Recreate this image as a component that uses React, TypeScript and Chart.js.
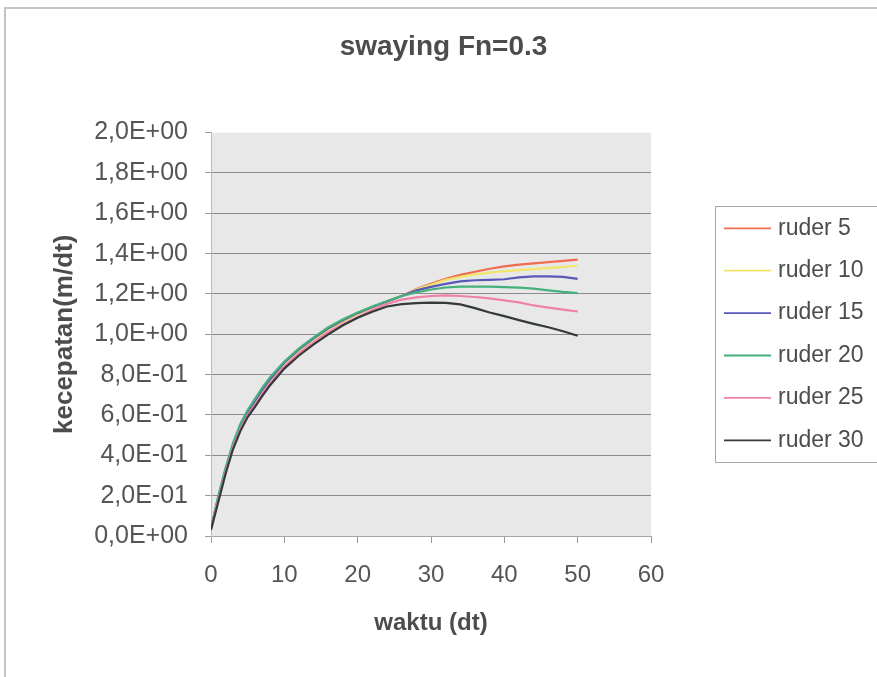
import React, { useEffect, useRef } from 'react';
import { Chart, registerables } from 'chart.js';

Chart.register(...registerables);

const TITLE = 'swaying Fn=0.3';
const X_TITLE = 'waktu (dt)';
const Y_TITLE = 'kecepatan(m/dt)';

// time samples (s)
const WAKTU = [0, 1, 2, 3, 4, 5, 6, 7, 8, 10, 12, 14, 16, 18, 20, 22, 24, 26, 28, 30, 32, 34, 36, 38, 40, 42, 44, 46, 48, 50];

// sway velocity (m/s) per rudder angle
const RUDER_5 = [0.04, 0.19, 0.33, 0.45, 0.54, 0.61, 0.66, 0.72, 0.77, 0.855, 0.92, 0.975, 1.025, 1.065, 1.1, 1.133, 1.162, 1.19, 1.225, 1.25, 1.275, 1.295, 1.31, 1.325, 1.337, 1.345, 1.352, 1.358, 1.364, 1.37];
const RUDER_10 = [0.04, 0.19, 0.33, 0.45, 0.54, 0.61, 0.665, 0.72, 0.77, 0.855, 0.92, 0.975, 1.025, 1.065, 1.1, 1.133, 1.162, 1.19, 1.222, 1.245, 1.27, 1.285, 1.297, 1.306, 1.313, 1.318, 1.323, 1.328, 1.334, 1.34];
const RUDER_15 = [0.04, 0.19, 0.33, 0.45, 0.545, 0.615, 0.67, 0.725, 0.775, 0.86, 0.925, 0.98, 1.03, 1.07, 1.105, 1.135, 1.163, 1.19, 1.218, 1.235, 1.25, 1.262, 1.268, 1.27, 1.273, 1.282, 1.287, 1.287, 1.285, 1.275];
const RUDER_20 = [0.04, 0.2, 0.34, 0.46, 0.555, 0.625, 0.68, 0.735, 0.785, 0.865, 0.93, 0.985, 1.035, 1.075, 1.108, 1.138, 1.165, 1.19, 1.208, 1.222, 1.232, 1.236, 1.237, 1.236, 1.234, 1.231, 1.226, 1.218, 1.21, 1.204];
const RUDER_25 = [0.04, 0.18, 0.32, 0.44, 0.53, 0.6, 0.65, 0.705, 0.755, 0.84, 0.905, 0.96, 1.01, 1.05, 1.085, 1.12, 1.15, 1.172, 1.183, 1.19, 1.193, 1.19, 1.185, 1.178, 1.168, 1.158, 1.143, 1.132, 1.122, 1.113];
const RUDER_30 = [0.03, 0.17, 0.31, 0.43, 0.52, 0.59, 0.64, 0.695, 0.745, 0.83, 0.895, 0.95, 1.0, 1.045, 1.082, 1.112, 1.138, 1.15, 1.155, 1.157, 1.156, 1.148, 1.13, 1.108, 1.09, 1.07, 1.052, 1.035, 1.015, 0.993];

const SERIES_LABELS = ['ruder 5', 'ruder 10', 'ruder 15', 'ruder 20', 'ruder 25', 'ruder 30'];
const SERIES_COLORS = ['#f26b50', '#f2e66a', '#5858b8', '#44b07c', '#f080aa', '#343a3a'];

const Y_TICK_LABELS = ['0,0E+00', '2,0E-01', '4,0E-01', '6,0E-01', '8,0E-01', '1,0E+00', '1,2E+00', '1,4E+00', '1,6E+00', '1,8E+00', '2,0E+00'];

const FONT = "'Liberation Sans', Arial, Helvetica, sans-serif";
const TEXT = '#4c4c4c';

// white sheet with a thin frame and a grey plot area
const framePlugin = {
  id: 'frame',
  beforeDraw(chart: any) {
    const { ctx, chartArea: a, width, height } = chart;
    ctx.save();
    ctx.fillStyle = '#ffffff';
    ctx.fillRect(0, 0, width, height);
    ctx.strokeStyle = '#c4c4c4';
    ctx.lineWidth = 2;
    ctx.strokeRect(5, 8, width + 20, height + 20);
    ctx.fillStyle = '#e8e8e8';
    ctx.fillRect(a.left, a.top, a.right - a.left, a.bottom - a.top);
    ctx.restore();
  },
};

// boxed legend to the right of the plot
const sideLegendPlugin = {
  id: 'sideLegend',
  afterDraw(chart: any) {
    const { ctx, chartArea: a } = chart;
    const sets = chart.data.datasets;
    const step = 42.4;
    const midY = (a.top + a.bottom) / 2;
    const left = a.right + 64;
    const boxTop = midY - 128;
    ctx.save();
    ctx.fillStyle = '#ffffff';
    ctx.fillRect(left, boxTop, 220, 256);
    ctx.strokeStyle = '#a8a8a8';
    ctx.lineWidth = 1;
    ctx.strokeRect(Math.round(left) + 0.5, Math.round(boxTop) + 0.5, 220, 256);
    ctx.font = `23px ${FONT}`;
    ctx.textBaseline = 'middle';
    ctx.textAlign = 'left';
    sets.forEach((ds: any, i: number) => {
      const y = midY + (i - (sets.length - 1) / 2) * step;
      ctx.strokeStyle = ds.borderColor;
      ctx.lineWidth = 1.8;
      ctx.beginPath();
      ctx.moveTo(left + 9, y);
      ctx.lineTo(left + 56, y);
      ctx.stroke();
      ctx.fillStyle = TEXT;
      ctx.fillText(ds.label, left + 63, y);
    });
    ctx.restore();
  },
};

export default function App() {
  const ref = useRef<HTMLCanvasElement>(null);

  useEffect(() => {
    const canvas = ref.current;
    if (!canvas) return;
    const series = [RUDER_5, RUDER_10, RUDER_15, RUDER_20, RUDER_25, RUDER_30];
    const chart = new Chart(canvas, {
      type: 'line',
      data: {
        datasets: series.map((vals, i) => ({
          label: SERIES_LABELS[i],
          data: vals.map((v, j) => ({ x: WAKTU[j], y: v })),
          borderColor: SERIES_COLORS[i],
          backgroundColor: SERIES_COLORS[i],
          borderWidth: 2.2,
          pointRadius: 0,
          tension: 0,
          fill: false,
          yAxisID: 'y',
          xAxisID: 'x',
          order: series.length - 1 - i,
        })),
      },
      options: {
        animation: false,
        responsive: true,
        maintainAspectRatio: false,
        layout: { padding: { left: 10, right: 0, top: 0, bottom: 0 } },
        plugins: {
          legend: { display: false },
          tooltip: { enabled: false },
          title: {
            display: true,
            text: TITLE,
            color: TEXT,
            font: { family: FONT, size: 28, weight: 'bold' },
            padding: { top: 30, bottom: 69 },
          },
        },
        scales: {
          x: {
            type: 'linear',
            min: 0,
            max: 60,
            ticks: {
              stepSize: 10,
              color: '#555555',
              font: { family: FONT, size: 24 },
              padding: 18,
              maxRotation: 0,
            },
            grid: { drawOnChartArea: false, drawTicks: true, tickLength: 7, tickColor: '#9a9a9a' },
            border: { color: '#a5a5a5' },
            title: {
              display: true,
              text: X_TITLE,
              color: TEXT,
              font: { family: FONT, size: 24, weight: 'bold' },
              padding: { top: 0, bottom: 39 },
            },
            afterFit: (s: any) => {
              s.height = 141;
            },
          },
          y: {
            type: 'linear',
            min: 0,
            max: 2,
            ticks: {
              stepSize: 0.2,
              color: '#555555',
              font: { family: FONT, size: 25 },
              padding: 17,
              callback: (_v: any, i: number) => Y_TICK_LABELS[i],
            },
            grid: {
              color: (c: any) => (c.tick && c.tick.value > 1.99 ? 'rgba(0,0,0,0)' : '#8c8c8c'),
              tickLength: 6,
              tickColor: '#9a9a9a',
            },
            border: { color: '#bdbdbd' },
            title: {
              display: true,
              text: Y_TITLE,
              color: TEXT,
              font: { family: FONT, size: 26, weight: 'bold' },
              padding: { top: 39, bottom: 0 },
            },
            afterFit: (s: any) => {
              s.width = 201;
            },
          },
          pad: {
            type: 'linear',
            position: 'right',
            display: true,
            ticks: { display: false },
            grid: { display: false },
            border: { display: false },
            afterFit: (s: any) => {
              s.width = 226;
            },
          },
        },
      } as any,
      plugins: [framePlugin, sideLegendPlugin],
    });
    return () => chart.destroy();
  }, []);

  return (
    <div style={{ position: 'fixed', left: 0, top: 0, width: 877, height: 677, background: '#fff' }}>
      <canvas ref={ref} />
    </div>
  );
}
